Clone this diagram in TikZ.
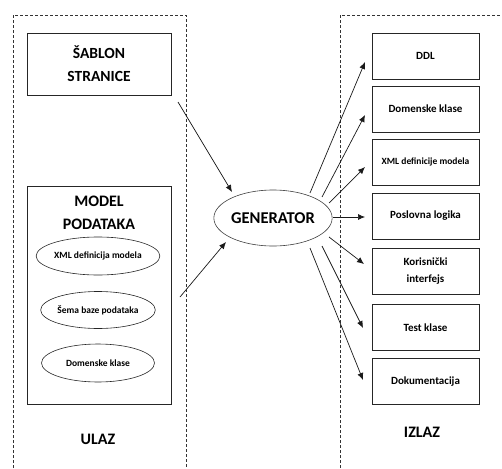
\documentclass[tikz,border=0pt]{standalone}
\usepackage{fontspec}
\setmainfont{Carlito}
\usetikzlibrary{arrows.meta,shapes.geometric}
\begin{document}
\begin{tikzpicture}[x=1pt,y=-1pt,
  frame/.style={draw=black!80, dashed, dash pattern=on 3pt off 2pt, line width=0.7pt},
  box/.style={draw=black!85, line width=0.8pt, rectangle, inner sep=0pt, font=\bfseries, align=center},
  oval/.style={draw=black!85, line width=0.6pt, ellipse, inner sep=0pt, font=\bfseries\fontsize{9.5}{11}\selectfont},
  arr/.style={draw=black!90, line width=0.7pt, -{Latex[length=7pt,width=6pt]}},
  lbl/.style={font=\bfseries\fontsize{16}{18}\selectfont}]
\useasboundingbox (0,0) rectangle (502,468);
% dashed frames
\draw[frame] (13,468) -- (13,15) -- (186,15) -- (186,468);
\draw[frame] (340,468) -- (340,15) -- (502,15);
% input boxes
\node[box, minimum width=144pt, minimum height=62pt, font=\bfseries\fontsize{15.5}{23}\selectfont] (sab) at (99,64) {ŠABLON\\STRANICE};
\node[box, minimum width=144pt, minimum height=218pt] (model) at (99,295) {};
\node[lbl, align=center, font=\bfseries\fontsize{16}{23}\selectfont] (modeltxt) at (99,213) {MODEL\\PODATAKA};
\node[oval, minimum width=113pt, minimum height=38pt] (xml) at (98,256) {XML definicija modela};
\node[oval, minimum width=113pt, minimum height=37pt] (sema) at (98,310) {Šema baze podataka};
\node[oval, minimum width=113pt, minimum height=38pt] (dom) at (98,363) {Domenske klase};
\node[lbl] (ulaz) at (98,439) {ULAZ};
% generator
\node[draw=black!75, line width=0.6pt, ellipse, minimum width=112pt, minimum height=56pt, inner sep=0pt, font=\bfseries\fontsize{16.5}{18}\selectfont] (gen) at (273,218) {GENERATOR};
% output boxes
\tikzset{obox/.style={box, minimum width=107pt, minimum height=46pt, font=\bfseries\fontsize{11}{17}\selectfont}}
\node[obox] (ddl) at (425.5,56) {DDL};
\node[obox] (odom) at (425.5,109) {Domenske klase};
\node[obox, font=\bfseries\fontsize{9.5}{11}\selectfont] (oxml) at (425.5,162) {XML definicije modela};
\node[obox] (posl) at (425.5,216) {Poslovna logika};
\node[obox] (kor) at (425.5,271.5) {Korisnički\\interfejs};
\node[obox] (test) at (425.5,327.5) {Test klase};
\node[obox] (dok) at (425.5,381.5) {Dokumentacija};
\node[lbl] (izlaz) at (422,432) {IZLAZ};
% arrow endpoints
\coordinate (s1) at (178,102); \coordinate (e1) at (232,192);
\coordinate (s2) at (180,297); \coordinate (e2) at (226,242);
\coordinate (g1) at (310,193); \coordinate (t1) at (365,62);
\coordinate (g2) at (322,197); \coordinate (t2) at (365,115);
\coordinate (g3) at (329,203); \coordinate (t3) at (365,167);
\coordinate (g4) at (333,217); \coordinate (t4) at (365,217);
\coordinate (g5) at (329,237); \coordinate (t5) at (364,264);
\coordinate (g6) at (322,246); \coordinate (t6) at (363,328);
\coordinate (g7) at (310,248); \coordinate (t7) at (363,380);
\draw[arr] (s1) -- (e1);
\draw[arr] (s2) -- (e2);
\draw[arr] (g1) -- (t1);
\draw[arr] (g2) -- (t2);
\draw[arr] (g3) -- (t3);
\draw[arr] (g4) -- (t4);
\draw[arr] (g5) -- (t5);
\draw[arr] (g6) -- (t6);
\draw[arr] (g7) -- (t7);
\end{tikzpicture}
\end{document}
